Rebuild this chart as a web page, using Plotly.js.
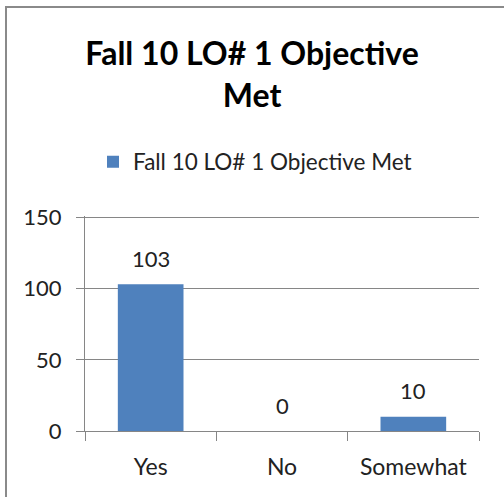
<!DOCTYPE html>
<html><head><meta charset="utf-8">
<script src="https://cdn.plot.ly/plotly-3.0.1.min.js"></script>
<style>
html,body{margin:0;padding:0;background:#fff;}
#wrap{position:relative;width:504px;height:497px;overflow:hidden;}
#chart{position:absolute;left:0;top:0;width:504px;height:497px;}
#frame{position:absolute;left:5px;top:6px;width:520px;height:520px;border:2px solid #8a8a8a;pointer-events:none;}
</style></head>
<body>
<div id="wrap"><div id="chart"></div><div id="frame"></div></div>
<script>
const categories = ["Yes", "No", "Somewhat"];
const values = [103, 0, 10];
const seriesName = "Fall 10 LO# 1 Objective Met";
const yTicks = [0, 50, 100, 150];

const FONT = "Lato, 'Liberation Sans', sans-serif";
const data = [{
  type: "bar",
  x: categories,
  y: values,
  name: seriesName,
  marker: {color: "#4F81BD"},
  showlegend: true,
  hoverinfo: "x+y"
}];
const annotations = categories.map((c, i) => ({
  x: c, y: values[i], xref: "x", yref: "y",
  text: String(values[i]), showarrow: false,
  yanchor: "middle", yshift: 26,
  font: {family: FONT, size: 22, color: "#222"}
}));
const layout = {
  width: 504, height: 497,
  margin: {l: 85, r: 25, t: 216, b: 66, autoexpand: false},
  paper_bgcolor: "rgba(0,0,0,0)", plot_bgcolor: "rgba(0,0,0,0)",
  title: {
    text: "<b>Fall 10 LO# 1 Objective<br>Met</b>",
    font: {family: FONT, size: 32, color: "#000"},
    x: 0.5, xanchor: "center", xref: "container",
    y: 1 - 65/497, yanchor: "top", yref: "container",
    automargin: false
  },
  showlegend: true,
  legend: {
    orientation: "h", x: (255-85)/394, xanchor: "center", xref: "paper",
    y: (431-162)/215, yanchor: "middle", yref: "paper",
    font: {family: FONT, size: 22.5, color: "#222"}
  },
  xaxis: {
    type: "category",
    showgrid: false,
    showline: true, linecolor: "#868686", linewidth: 1,
    ticks: "outside", tickson: "boundaries", ticklen: 9, tickcolor: "#868686",
    tickfont: {family: FONT, size: 23, color: "#222"},
    ticklabelstandoff: 15,
    tickangle: 0, automargin: false,
    fixedrange: true
  },
  yaxis: {
    range: [0, 151], tickvals: yTicks,
    showgrid: true, gridcolor: "#868686", gridwidth: 1,
    showline: true, linecolor: "#868686", linewidth: 1,
    zeroline: false,
    ticks: "outside", ticklen: 8, tickcolor: "#868686",
    tickfont: {family: FONT, size: 22, color: "#222"},
    ticklabelstandoff: 10,
    automargin: false,
    fixedrange: true
  },
  annotations: annotations,
  bargap: 0.5
};
Plotly.newPlot("chart", data, layout, {staticPlot: true});
</script>
</body></html>
